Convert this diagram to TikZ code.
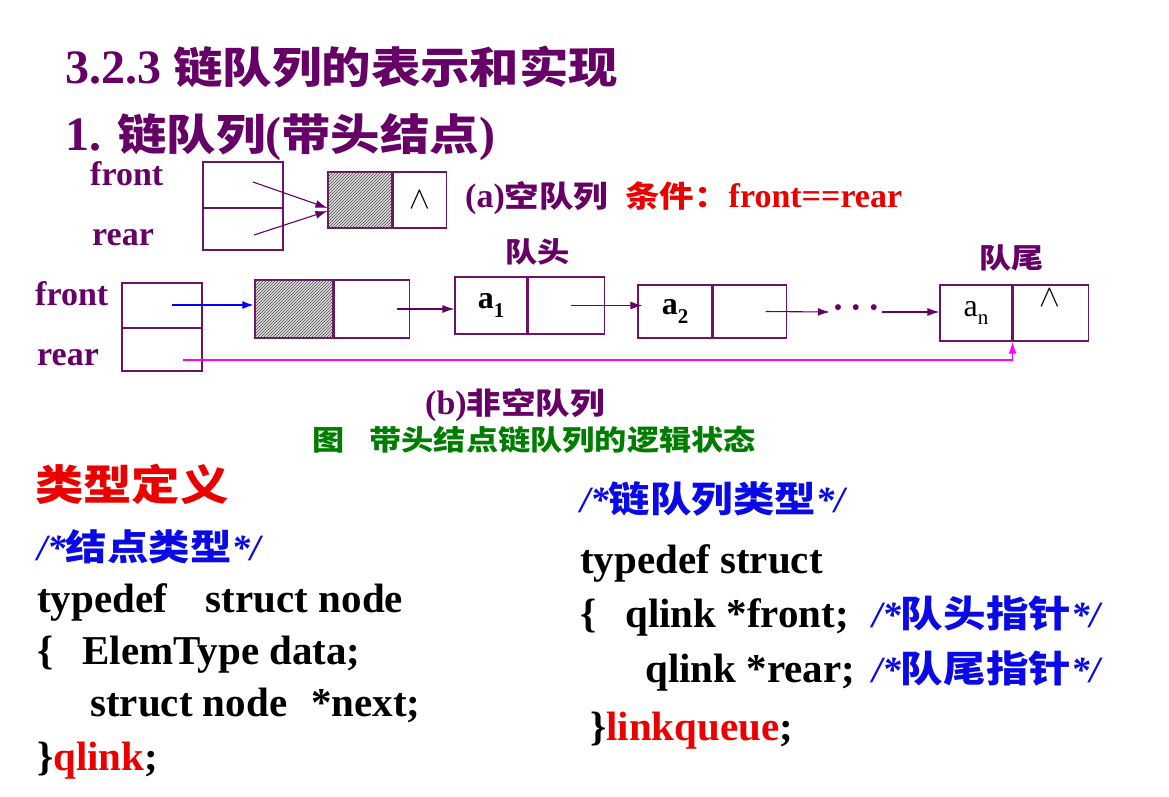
\documentclass[tikz,border=0pt]{standalone}
\usepackage{fontspec}
\setmainfont{Liberation Serif}
\newfontfamily\cjk[FakeStretch=1.15]{Noto Sans CJK SC}
\usetikzlibrary{positioning,patterns,calc,arrows.meta}
\definecolor{plum}{RGB}{102,0,102}
\definecolor{boxc}{RGB}{110,20,100}
\definecolor{redtxt}{RGB}{235,0,0}
\definecolor{greentxt}{RGB}{0,125,0}
\definecolor{bluetxt}{RGB}{10,10,230}
\definecolor{pinkline}{RGB}{255,0,255}
\newcommand{\zh}[1]{{\cjk\bfseries #1}}
\newcommand{\elsub}[2]{#1\raisebox{-0.28em}{\fontsize{21}{21}\selectfont #2}}
\newcommand{\nilmark}{\scalebox{1.25}{\fontsize{30}{30}\selectfont$\wedge$}}

\begin{document}
\begin{tikzpicture}[x=1pt,y=-1pt,>={Latex[length=12pt,width=8pt]}]
      \tikzstyle{cell} = [draw=boxc, line width=1.1pt, inner sep=0pt]
      \tikzstyle{hatch} = [cell, fill=gray!25, postaction={pattern=north
      east lines, pattern color=gray!60!black}]
      \tikzstyle{arr} = [->, draw=plum, line width=1.1pt]
      \tikzstyle{lbl} = [text=plum, inner sep=0pt, anchor=base west,
      font=\fontsize{34}{40}\selectfont\bfseries]
      \tikzstyle{code} = [inner sep=0pt, anchor=base west,
      font=\fontsize{41}{46}\selectfont\bfseries]
      \tikzstyle{note} = [inner sep=0pt, anchor=base west, text=bluetxt,
      font=\fontsize{37}{40}\selectfont\bfseries]
      \useasboundingbox (0,0) rectangle (1169,796);
      % titles
      \node[lbl, font=\fontsize{48}{52}\selectfont\bfseries] (t1) at (65,83)
      {3.2.3 \zh{\fontsize{43}{46}\selectfont 链队列的表示和实现}};
      \node[lbl, font=\fontsize{48}{52}\selectfont\bfseries] (t2) at (65,150)
      {1. \zh{\fontsize{43}{46}\selectfont 链队列}(\zh{\fontsize{43}{46}\selectfont 带头结点})};
      % (a) empty queue
      \node[lbl] (fa) at (90,185) {front}; \node[lbl] (ra) at (92,245)
      {rear};
      \node[cell, minimum width=80pt, minimum height=46pt] (qfa) at (243,185) {};
      \node[cell, minimum width=80pt, minimum height=42pt] (qra) at (243,229) {};
      \node[hatch, minimum width=64pt, minimum height=56pt] (hda) at (360,200) {};
      \node[cell, minimum width=53pt, minimum height=56pt, anchor=west] (hna) at
      (hda.east) {\nilmark};
      \coordinate (pfa) at (253,182); \coordinate (pra) at (254,235);
      \draw[arr] (pfa) -- ([yshift=-8pt]hda.west); \draw[arr] (pra) --
      ([yshift=-11pt]hda.west);
      \node[lbl] (capa) at (465,207) {(a)\zh{\fontsize{30}{32}\selectfont 空队列}};
      \node[lbl, text=redtxt] (cond) at (625,207) {\zh{\fontsize{30}{32}\selectfont
      条件：}front==rear};
      % (b) non-empty queue
      \node[lbl] (fb) at (35,305) {front}; \node[lbl] (rb) at (37,365)
      {rear};
      \node[cell, minimum width=80pt, minimum height=45pt] (qfb) at (162,305.5) {};
      \node[cell, minimum width=80pt, minimum height=43pt] (qrb) at (162,349.5) {};
      \node[hatch, minimum width=78pt, minimum height=58pt] (hdb) at (294,309) {};
      \node[cell, minimum width=75pt, minimum height=58pt, anchor=west] (hnb) at
      (hdb.east) {};
      \node[cell, minimum width=72pt, minimum height=57pt] (a1d) at (491,305.5)
      {\fontsize{32}{32}\selectfont\bfseries\elsub{a}{1}};
      \node[cell, minimum width=76pt, minimum height=57pt, anchor=west] (a1n) at
      (a1d.east) {};
      \node[cell, minimum width=74pt, minimum height=53pt] (a2d) at (675,311.5)
      {\fontsize{32}{32}\selectfont\bfseries\elsub{a}{2}};
      \node[cell, minimum width=73pt, minimum height=53pt, anchor=west] (a2n) at
      (a2d.east) {};
      \node[cell, minimum width=72pt, minimum height=56pt] (and) at (976,313)
      {\fontsize{32}{32}\selectfont\elsub{a}{n}};
      \node[cell, minimum width=75pt, minimum height=56pt, anchor=west] (ann) at
      (and.east) {};
      \node (wedge) at (1050,298) {\nilmark};
      \node[text=plum, inner sep=2pt] (dots) at (856,312)
      {\fontsize{36}{36}\selectfont\bfseries\textperiodcentered\,\textperiodcentered\,\textperiodcentered};
      \coordinate (pfb) at (172,305); \coordinate (prb) at (183,360);
      \draw[->, draw=blue, line width=2.6pt] (pfb) -- (pfb -| hdb.west);
      \draw[arr] ([xshift=25pt]hnb.center) -- (hnb.center -| a1d.west);
      \draw[arr] ([xshift=5pt]a1n.center) -- ([xshift=5pt]a1n.center -|
      a2d.west); \draw[arr] ([xshift=16pt]a2n.center) -- (dots.west);
      \draw[arr] (dots.east) -- (dots.east -| and.west);
      \draw[->, draw=pinkline, line width=1.6pt] (prb) -| (and.south east);
      \node[lbl] (head) at (505,262) {\zh{\fontsize{28}{30}\selectfont 队头}};
      \node[lbl] (tail) at (979,268) {\zh{\fontsize{28}{30}\selectfont 队尾}};
      \node[lbl] (capb) at (425,414) {(b)\zh{\fontsize{30}{32}\selectfont 非空队列}};
      \node[lbl, text=greentxt] (fig) at (312,450)
      {\zh{\fontsize{28}{30}\selectfont 图\hspace{0.9em}带头结点链队列的逻辑状态}};
      % type definitions
      \node[lbl, text=redtxt] (tdef) at (35,500) {\zh{\fontsize{42}{46}\selectfont
      类型定义}};
      \node[note] (c1) at (37,560) {\itshape/*\zh{\upshape\fontsize{36}{38}\selectfont
      结点类型}*/};
      \node[code] (l1) at (37,612) {typedef\hspace{39pt}struct node};
      \node[code] (l2) at (37,664) {\{\hspace{29pt}ElemType data;};
      \node[code] (l3) at (90,716) {struct node\hspace{24pt}*next;};
      \node[code] (l4) at (37,770) {\}\textcolor{redtxt}{qlink};};
      \node[note] (c2) at (580,512) {\itshape/*\zh{\upshape\fontsize{36}{38}\selectfont
      链队列类型}*/};
      \node[code] (r1) at (580,573) {typedef struct};
      \node[code] (r2) at (580,627) {\{\hspace{29pt}qlink *front;};
      \node[note] (c3) at (872,627) {\itshape/*\zh{\upshape\fontsize{37}{38}\selectfont
      队头指针}*/};
      \node[code] (r3) at (645,682) {qlink *rear;};
      \node[note] (c4) at (872,682) {\itshape/*\zh{\upshape\fontsize{37}{38}\selectfont
      队尾指针}*/};
      \node[code] (r4) at (590,740) {\}\textcolor{redtxt}{linkqueue};};
    \end{tikzpicture}
\end{document}
